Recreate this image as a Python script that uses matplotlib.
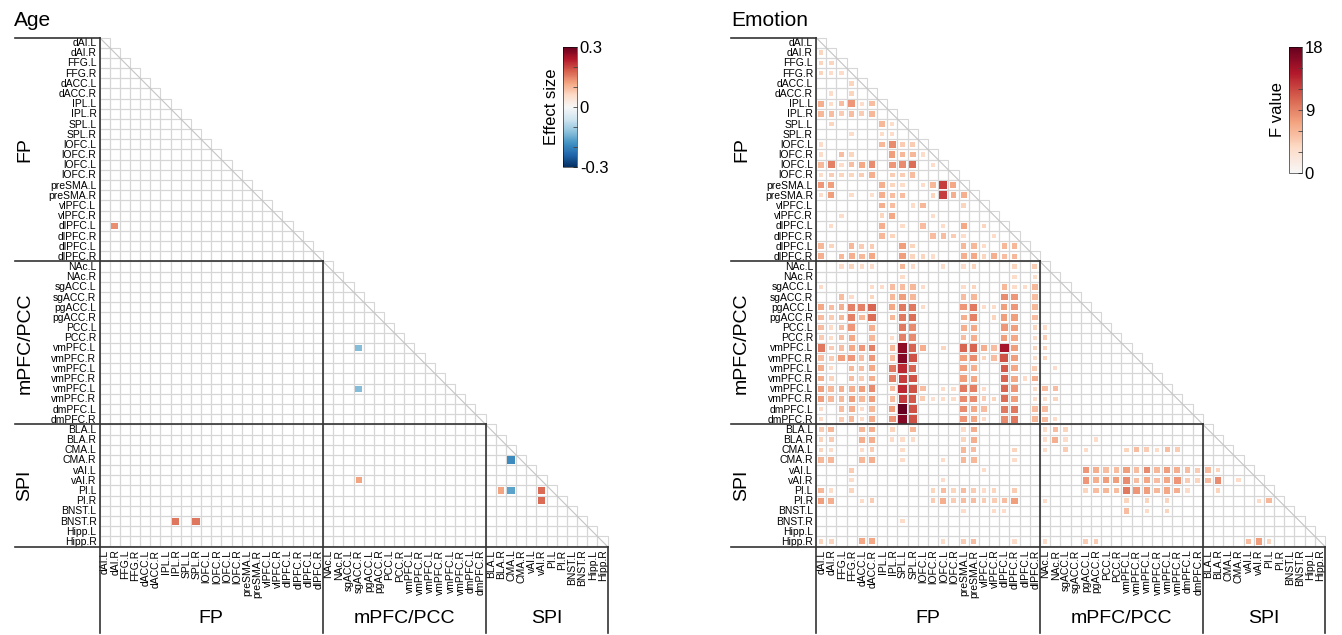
import numpy as np
import matplotlib
matplotlib.use("Agg")
import matplotlib.pyplot as plt
from matplotlib.patches import Rectangle
from matplotlib.colors import Normalize, LinearSegmentedColormap
from matplotlib.cm import ScalarMappable

plt.rcParams['font.family'] = ['Liberation Sans', 'DejaVu Sans']

# ROI labels, grouped into the three networks
fp_rois = ["dAI.L", "dAI.R", "FFG.L", "FFG.R", "dACC.L", "dACC.R", "IPL.L", "IPL.R",
           "SPL.L", "SPL.R", "lOFC.L", "lOFC.R", "lOFC.L", "lOFC.R", "preSMA.L", "preSMA.R",
           "vlPFC.L", "vlPFC.R", "dlPFC.L", "dlPFC.R", "dlPFC.L", "dlPFC.R"]
mpfc_rois = ["NAc.L", "NAc.R", "sgACC.L", "sgACC.R", "pgACC.L", "pgACC.R", "PCC.L", "PCC.R",
             "vmPFC.L", "vmPFC.R", "vmPFC.L", "vmPFC.R", "vmPFC.L", "vmPFC.R", "dmPFC.L", "dmPFC.R"]
spi_rois = ["BLA.L", "BLA.R", "CMA.L", "CMA.R", "vAI.L", "vAI.R", "PI.L", "PI.R",
            "BNST.L", "BNST.R", "Hipp.L", "Hipp.R"]
networks = ["FP", "mPFC/PCC", "SPI"]

rois = fp_rois + mpfc_rois + spi_rois
n = len(rois)
bounds = [0, len(fp_rois), len(fp_rois) + len(mpfc_rois), n]

# Age effect sizes (row index, column index, value)
age_rows = [18, 30, 34, 41, 43, 44, 44, 44, 45, 47, 47]
age_cols = [1, 25, 25, 40, 25, 39, 40, 43, 43, 7, 9]
age_values = [0.14, -0.13, -0.13, -0.19, 0.12, 0.12, -0.16, 0.17, 0.17, 0.16, 0.16]

# Emotion F values: row -> {column: F}
emotion_f = {
    1: {0: 4},
    2: {0: 4, 1: 4},
    3: {0: 4, 1: 3.5, 2: 3.5},
    4: {3: 4},
    5: {1: 3.5, 3: 4},
    6: {0: 6.5, 1: 3.5, 2: 5.5, 3: 8, 4: 3.5, 5: 5.5},
    7: {0: 6, 1: 5.5, 2: 4.5, 3: 5.5, 4: 4.5, 5: 6},
    8: {1: 4, 6: 6, 7: 3.5},
    9: {3: 3.5, 6: 3.5, 7: 3.5},
    10: {0: 3.5, 6: 6, 7: 8.5, 8: 4.5, 9: 4.5},
    11: {0: 3.5, 2: 5.5, 3: 4, 7: 7.5, 8: 6, 9: 6, 10: 3.5},
    12: {0: 6, 1: 9, 2: 3.5, 3: 5.5, 4: 7, 5: 8.5, 7: 8, 8: 8.5, 9: 10, 11: 3.5},
    13: {0: 3.5, 1: 4.5, 2: 4, 3: 4, 4: 4.5, 5: 6.5, 7: 4.5, 8: 4.5, 9: 5.5},
    14: {0: 8, 1: 7.5, 6: 6.5, 7: 4, 8: 3.5, 10: 3.5, 11: 6, 12: 12.5, 13: 7},
    15: {0: 3.5, 1: 7.5, 3: 3.5, 5: 3, 6: 6.5, 7: 5.5, 8: 5.5, 11: 4, 12: 12.5, 13: 6.5, 14: 6.5},
    16: {6: 6.5, 7: 5.5, 9: 3.5, 10: 6, 14: 4},
    17: {2: 3.5, 6: 4, 7: 7, 11: 3.5},
    18: {1: 3.5, 6: 6.5, 8: 3.5, 10: 5.5, 12: 3.5, 14: 7, 16: 4},
    19: {6: 6, 7: 4, 11: 5.5, 12: 5.5, 13: 4.5, 14: 3.5, 17: 3.5},
    20: {0: 6, 1: 4, 3: 6, 4: 4.5, 5: 4.5, 8: 7.5, 9: 4, 14: 6, 15: 6, 16: 3.5, 18: 6, 19: 6},
    21: {0: 6.5, 2: 6, 3: 6.5, 4: 6, 5: 7, 8: 7.5, 9: 4, 10: 4, 11: 3.5, 14: 6.5, 15: 7,
         16: 4, 17: 6.5, 18: 5.5, 19: 6},
    22: {2: 3.5, 3: 4, 4: 3.5, 5: 3.5, 8: 6, 9: 3.5, 12: 3.5, 14: 3.5, 15: 4, 19: 4, 21: 4.5},
    23: {8: 3.5, 19: 3.5, 21: 3.5},
    24: {0: 3.5, 5: 3.5, 6: 3.5, 7: 5.5, 8: 5.5, 9: 6, 10: 3.5, 14: 3.5, 15: 4, 18: 6,
         19: 3.5, 20: 3.5, 21: 6},
    25: {2: 5.5, 3: 3.5, 5: 4, 7: 6, 8: 7.5, 9: 6, 14: 5.5, 15: 6, 18: 8.5, 19: 8, 21: 5.5},
    26: {0: 7, 1: 5.5, 2: 6.5, 3: 9, 4: 9, 5: 10.5, 7: 7, 8: 9.5, 9: 9.5, 10: 3.5, 14: 8,
         15: 9.5, 16: 3.5, 17: 3.5, 18: 7.5, 19: 8, 21: 6},
    27: {0: 5.5, 1: 4.5, 2: 6, 3: 9, 4: 6, 5: 10, 7: 6, 8: 9.5, 9: 10, 14: 6.5, 15: 9,
         17: 4, 18: 7.5, 19: 7.5, 21: 5.5},
    28: {0: 5.5, 1: 3.5, 2: 5.5, 3: 8, 5: 6.5, 8: 9.5, 9: 8.5, 14: 6.5, 15: 7, 18: 8,
         19: 7.5, 21: 4, 22: 3.5},
    29: {0: 4.5, 1: 3.5, 2: 5.5, 3: 7, 5: 6, 7: 3.5, 8: 9, 9: 8.5, 14: 5.5, 15: 6.5,
         18: 7.5, 19: 7, 21: 3.5, 22: 4.5},
    30: {0: 9.5, 1: 4.5, 2: 5.5, 3: 7, 4: 8, 5: 9, 7: 6, 8: 16, 9: 10.5, 10: 6.5, 12: 4,
         14: 10.5, 15: 10.5, 16: 6.5, 17: 5.5, 18: 15, 19: 7.5, 21: 4, 22: 4},
    31: {0: 5.5, 1: 4.5, 2: 7.5, 3: 8, 4: 5.5, 5: 8, 7: 5.5, 8: 16.5, 9: 11.5, 14: 7.5,
         15: 8.5, 16: 4, 17: 5.5, 18: 11.5, 19: 7.5, 21: 3.5, 22: 4},
    32: {0: 6.5, 1: 3.5, 3: 6, 4: 5.5, 5: 7, 7: 9.5, 8: 13.5, 9: 10.5, 14: 7.5, 15: 6.5,
         18: 11, 19: 7, 21: 4.5, 23: 3.5},
    33: {0: 6.5, 1: 4, 3: 5.5, 4: 4.5, 5: 6.5, 7: 9, 8: 12.5, 9: 11.5, 14: 7.5, 15: 7,
         18: 10.5, 19: 7, 20: 3.5, 21: 6.5},
    34: {0: 7.5, 1: 6, 2: 6.5, 3: 6.5, 4: 7.5, 5: 8.5, 7: 5.5, 8: 13.5, 9: 11.5, 10: 5.5,
         12: 3.5, 13: 3.5, 14: 9.5, 15: 9, 16: 3.5, 18: 10.5, 19: 8, 21: 3.5, 22: 5.5, 23: 5.5},
    35: {0: 7.5, 1: 6, 2: 6, 3: 7.5, 4: 6, 5: 7.5, 7: 5.5, 8: 12.5, 9: 11, 10: 4.5, 11: 3,
         12: 3.5, 13: 3.5, 14: 8.5, 15: 8.5, 16: 4.5, 17: 4, 18: 10, 19: 7.5, 21: 3.5,
         22: 3.5, 23: 4},
    36: {0: 3.5, 2: 5.5, 3: 6.5, 4: 3.5, 5: 6, 7: 7.5, 8: 18, 9: 11.5, 14: 8.5, 15: 7,
         16: 5.5, 18: 9.5, 19: 9.5, 21: 5.5, 22: 5.5},
    37: {0: 3.5, 2: 4.5, 3: 6, 4: 3.5, 5: 6.5, 7: 8, 8: 16.5, 9: 11.5, 14: 8, 15: 7,
         16: 3.5, 18: 8.5, 19: 9.5, 21: 6, 22: 5.5, 23: 3.5},
    38: {0: 4.5, 1: 6, 4: 6, 5: 6.5, 7: 4, 9: 6, 14: 3.5, 15: 6.5, 22: 3.5, 23: 5.5, 24: 4},
    39: {0: 4, 1: 4.5, 4: 6.5, 5: 6.5, 7: 3.5, 8: 3.5, 9: 3.5, 14: 4, 15: 6.5, 22: 3.5,
         23: 6.5, 24: 3.5, 27: 3.5},
    40: {0: 4, 1: 3.5, 4: 3.5, 5: 4.5, 8: 3.5, 14: 6, 15: 5.5, 19: 4, 22: 3.5, 24: 4.5,
         26: 3.5, 30: 4, 31: 5.5, 32: 4.5, 33: 3.5, 34: 5.5, 35: 4.5},
    41: {0: 6, 1: 6, 4: 6, 5: 6.5, 8: 3.5, 12: 3.5, 14: 6, 15: 6, 19: 3.5},
    42: {3: 4.5, 16: 3.5, 26: 8, 27: 6.5, 28: 5.5, 29: 5.5, 30: 7.5, 31: 5.5, 32: 8.5,
         33: 6, 34: 7.5, 35: 6.5, 36: 5.5, 37: 4.5, 38: 5.5, 39: 4},
    43: {3: 3.5, 12: 3.5, 26: 8, 27: 6.5, 28: 7.5, 29: 7.5, 30: 8.5, 31: 5.5, 32: 7,
         33: 5.5, 34: 7, 35: 8, 36: 4.5, 37: 4, 38: 5.5, 39: 8.5, 41: 3.5},
    44: {0: 6, 1: 3.5, 3: 4, 11: 4, 12: 5.5, 13: 4, 14: 5.5, 15: 4.5, 16: 3.5, 17: 4,
         19: 4.5, 26: 4, 27: 5.5, 28: 6, 29: 5.5, 30: 9.5, 31: 8, 32: 7.5, 33: 6, 34: 7,
         35: 6.5, 36: 3.5, 39: 4},
    45: {0: 7.5, 1: 6.5, 4: 3.5, 5: 4.5, 11: 4.5, 12: 6.5, 13: 4.5, 14: 5.5, 15: 5.5,
         16: 4.5, 17: 4.5, 18: 5.5, 19: 7.5, 22: 3.5, 30: 4, 32: 4, 34: 4, 43: 3.5, 44: 6},
    46: {14: 3.5, 17: 3.5, 18: 3.5, 30: 5.5, 32: 3.5, 34: 4},
    47: {8: 3.5},
    49: {0: 4, 1: 4, 4: 7, 5: 7, 12: 3.5, 14: 4.5, 15: 5.5, 19: 3.5, 22: 3.5, 26: 4.5,
         27: 4.5, 42: 5.5, 43: 7.5, 44: 4},
}

age = np.zeros((n, n))
age[age_rows, age_cols] = age_values

emotion = np.zeros((n, n))
for r, cells in emotion_f.items():
    for c, v in cells.items():
        emotion[r, c] = v

W, H = 1342, 635
fig = plt.figure(figsize=(W / 100, H / 100), dpi=100)


def px_axes(x0, y0, w, h):
    return fig.add_axes([x0 / W, 1 - (y0 + h) / H, w / W, h / H])


def draw_matrix(ax, mat, cmap, norm, vmax):
    ax.set_xlim(0, n)
    ax.set_ylim(n, 0)
    ax.axis("off")
    unit = 10.17
    # light grid over the lower triangle (diagonal included)
    for i in range(n):
        for j in range(i + 1):
            ax.add_patch(Rectangle((j, i), 1, 1, facecolor="none",
                                   edgecolor="#d6d6d6", lw=0.8, clip_on=False))
    ax.plot([0, n], [0, n], color="#c4c4c4", lw=0.8, clip_on=False)
    # squares sized by magnitude
    for i in range(n):
        for j in range(i):
            v = mat[i, j]
            if v == 0:
                continue
            s = 0.95 * np.sqrt(abs(v) / vmax)
            ax.add_patch(Rectangle((j + 0.5 - s / 2, i + 0.5 - s / 2), s, s,
                                   facecolor=cmap(norm(v)), edgecolor="none",
                                   clip_on=False, zorder=3))
    # network block outlines
    left = -84.5 / unit
    bottom = (632 - 37.5) / unit
    for b in bounds:
        ax.plot([left, b], [b, b], color="#333333", lw=1.2, clip_on=False, zorder=4)
        ax.plot([b, b], [b, bottom], color="#333333", lw=1.2, clip_on=False, zorder=4)
    # ROI labels
    for k, lab in enumerate(rois):
        ax.text(-0.3, k + 0.55, lab, ha="right", va="center", fontsize=7.5,
                clip_on=False)
        ax.text(k + 0.55, n + 0.3, lab, ha="center", va="top", rotation=90,
                fontsize=7.5, clip_on=False)
    # network names
    for name, s0, s1 in zip(networks, bounds[:-1], bounds[1:]):
        mid = (s0 + s1) / 2
        ax.text((25 - 99.5) / unit, mid, name, rotation=90, ha="center",
                va="center", fontsize=14, clip_on=False)
        ax.text(mid, (618 - 37.5) / unit, name, ha="center", va="center",
                fontsize=14, clip_on=False)


def add_colorbar(cmap, norm, rect, ticks, minor, ticklabels, label):
    cax = px_axes(*rect)
    cb = fig.colorbar(ScalarMappable(norm=norm, cmap=cmap), cax=cax)
    cb.set_ticks(ticks)
    cb.set_ticklabels(ticklabels)
    cb.ax.set_yticks(minor, minor=True)
    cb.ax.tick_params(which="both", direction="in", length=3, width=0.6,
                      color="#444444", labelsize=12, pad=2)
    cb.outline.set_linewidth(0.4)
    cb.ax.yaxis.set_label_position("left")
    cb.set_label(label, fontsize=12, labelpad=3)


# Age panel
age_cmap = plt.get_cmap("RdBu_r")
age_norm = Normalize(-0.3, 0.3)
ax1 = px_axes(99.5, 37.5, 508, 509)
draw_matrix(ax1, age, age_cmap, age_norm, 0.3)
add_colorbar(age_cmap, age_norm, (563, 47, 14, 120), [-0.3, 0, 0.3],
             [-0.2, -0.1, 0.1, 0.2], ["-0.3", "0", "0.3"], "Effect size")
fig.text(14 / W, 1 - 20 / H, "Age", fontsize=15, va="center", ha="left")

# Emotion panel
f_cmap = LinearSegmentedColormap.from_list(
    "reds_half", plt.get_cmap("RdBu_r")(np.linspace(0.5, 1, 256)))
f_norm = Normalize(0, 18)
ax2 = px_axes(816, 37.5, 509, 509)
draw_matrix(ax2, emotion, f_cmap, f_norm, 18)
add_colorbar(f_cmap, f_norm, (1289, 47, 13, 126), [0, 9, 18],
             [3, 6, 12, 15], ["0", "9", "18"], "F value")
fig.text(731 / W, 1 - 20 / H, "Emotion", fontsize=15, va="center", ha="left")

fig.savefig("out.png", dpi=100)
